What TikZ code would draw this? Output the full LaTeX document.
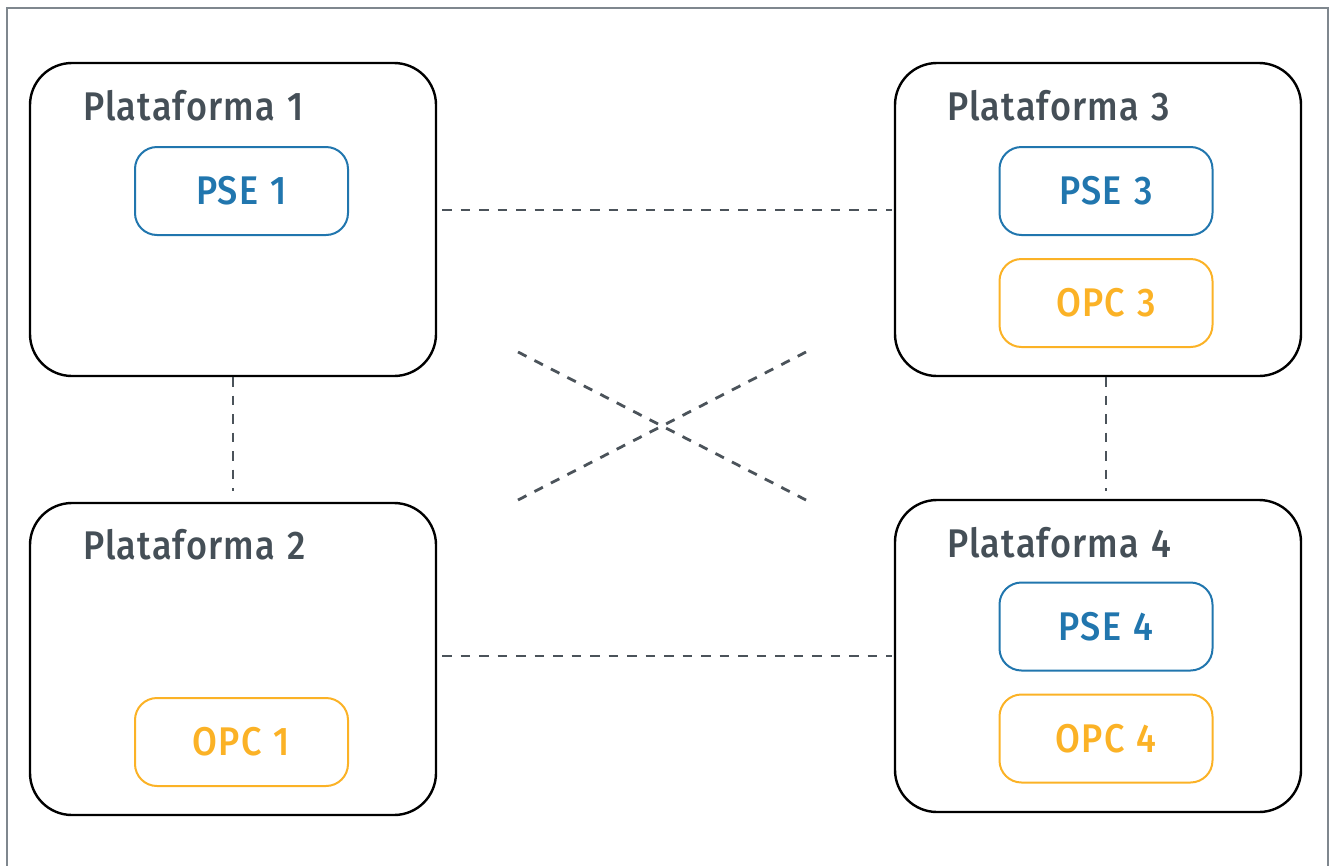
\documentclass[tikz,border=0pt]{standalone}
\usepackage{fontspec}
\setmainfont{Fira Sans Medium}[FakeStretch=0.9, LetterSpace=3, WordSpace=1.2]
\definecolor{txtgray}{HTML}{454F57}
\definecolor{dashgray}{HTML}{4B535A}
\definecolor{frameg}{HTML}{7F878E}
\definecolor{pseblue}{HTML}{2176AE}
\definecolor{opcorange}{HTML}{FBB226}
\tikzset{
  platbox/.style={draw=black, line width=2.4pt, rounded corners=42pt, minimum width=406pt, inner sep=0pt},
  innerbox/.style={draw, line width=2pt, rounded corners=22pt, minimum width=213pt, minimum height=88pt, inner sep=0pt, font=\fontsize{40}{40}\selectfont},
  psebox/.style={innerbox, draw=pseblue, text=pseblue},
  opcbox/.style={innerbox, draw=opcorange, text=opcorange},
  platlabel/.style={anchor=base west, inner sep=0pt, text=txtgray, font=\fontsize{40}{40}\selectfont},
  link/.style={draw=dashgray, line width=2.8pt, dash pattern=on 9.5pt off 9pt}
}
\begin{document}
\begin{tikzpicture}[x=1pt,y=-1pt]
\useasboundingbox (0,0) rectangle (1330,865);
\draw[frameg, line width=1.5pt] (7,880) -- (7,8) -- (1328,8) -- (1328,880);
% platforms
\node[platbox, minimum height=313pt] (b1) at (233,219.5) {};
\node[platbox, minimum height=312pt] (b2) at (233,659) {};
\node[platbox, minimum height=313pt] (b3) at (1098,219.5) {};
\node[platbox, minimum height=312pt] (b4) at (1098,656) {};
% labels
\node[platlabel] (l1) at (83,120) {Plataforma 1};
\node[platlabel] (l2) at (83,559) {Plataforma 2};
\node[platlabel] (l3) at (947,120) {Plataforma 3};
\node[platlabel] (l4) at (947,557) {Plataforma 4};
% inner boxes
\node[psebox] (pse1) at (241.5,191) {PSE 1};
\node[opcbox] (opc1) at (241.5,742) {OPC 1};
\node[psebox] (pse3) at (1106,191) {PSE 3};
\node[opcbox] (opc3) at (1106,303) {OPC 3};
\node[psebox] (pse4) at (1106,626.5) {PSE 4};
\node[opcbox] (opc4) at (1106,738.5) {OPC 4};
% cross ends
\coordinate (xa) at (518,352);
\coordinate (xb) at (806,500);
\coordinate (xc) at (518,500);
\coordinate (xd) at (806,352);
% connectors
\draw[link] ([shift={(5pt,9.5pt)}]b1.east) -- ([shift={(-2pt,9.5pt)}]b3.west);
\draw[link] ([shift={(5pt,3pt)}]b2.east) -- ([shift={(-2pt,0pt)}]b4.west);
\draw[link] (b1.south) -- ([yshift=11pt]b2.north);
\draw[link] (pse3.south |- b3.south) -- ([yshift=8pt]pse3.south |- b4.north);
\draw[link] (xa) -- (xb);
\draw[link] (xc) -- (xd);
\end{tikzpicture}
\end{document}
